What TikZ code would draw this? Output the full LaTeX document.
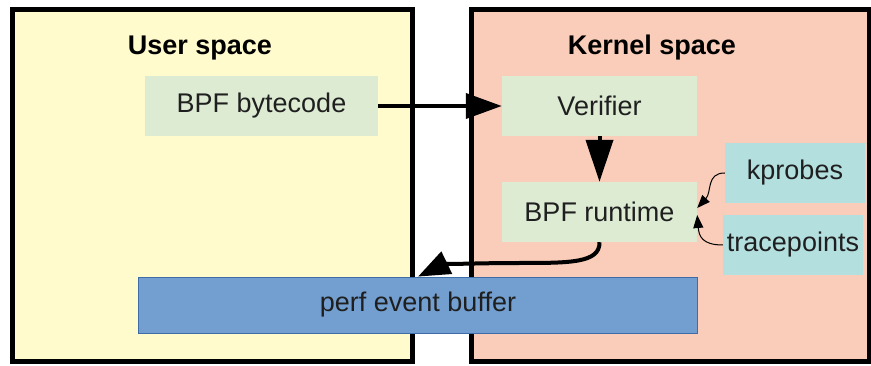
\documentclass[tikz,border=0pt]{standalone}
\usepackage{fontspec}
\setmainfont{Liberation Sans}
\usetikzlibrary{positioning, arrows.meta}
\definecolor{userbg}{HTML}{FFFBCC}
\definecolor{kernelbg}{HTML}{F9CDB9}
\definecolor{stepgreen}{HTML}{DDEBD3}
\definecolor{probecyan}{HTML}{B4DFDF}
\definecolor{bufblue}{HTML}{729FCF}
\definecolor{bufedge}{HTML}{3E6CA8}

\begin{document}
\begin{tikzpicture}[x=1pt, y=-1pt, font=\fontsize{27}{32}\selectfont, text=black!88,
  region/.style={draw, line width=5pt, inner sep=0pt, minimum height=352pt},
  title/.style={font=\fontsize{27}{32}\selectfont\bfseries, text=black},
  b/.style={fill=stepgreen, inner sep=0pt, minimum height=60pt},
  probe/.style={fill=probecyan, inner sep=0pt, minimum width=140pt, minimum height=60pt},
  big/.style={line width=4pt, -{Triangle[length=36pt, width=25pt]}},
  thin/.style={line width=1pt, -{Triangle[length=13pt, width=10pt]}}]
  \fill[white] (0,0) rectangle (871,366);
  \useasboundingbox (0,0) rectangle (871,366);

  % the two address spaces
  \node[region, fill=userbg, minimum width=400pt] (user) at (212.5,186) {};
  \node[region, fill=kernelbg, minimum width=397.5pt] (kernel) at (670.25,186) {};
  \node[title] (usertitle) at (200,48) {User space};
  \node[title] (kerneltitle) at (652,48) {Kernel space};

  \node[b, minimum width=233pt] (bytecode) at (261.5,106) {BPF bytecode};
  \node[b, minimum width=195pt] (verifier) at (599.5,106) {Verifier};
  \node[b, minimum width=195pt] (runtime) at (599.5,212) {BPF runtime};
  \node[probe] (kprobes) at (795,173) {kprobes};
  \node[probe] (tracepoints) at (793,245) {tracepoints};
  \node[draw=bufedge, line width=0.8pt, fill=bufblue, inner sep=0pt,
    minimum width=559pt, minimum height=56pt] (perf) at (418,305) {perf event buffer};

  \draw[big] (bytecode) -- (verifier);
  \draw[big, -{Triangle[length=42pt, width=27pt]}] (verifier) -- (runtime);
  \draw[big, -{Triangle[length=32pt, width=24pt]}] (runtime.south)
    .. controls (600,263) and (570,263) .. (520,263)
    .. controls (470,263) and (442,265) .. (perf.north);
  % probes feeding the runtime
  \draw[thin] (kprobes.west) .. controls (706,173) and (712,192) .. ([yshift=4pt]runtime.east);
  \draw[thin] (tracepoints.west) .. controls (702,245) and (699,236) .. ([yshift=-3pt]runtime.east);
\end{tikzpicture}
\end{document}
